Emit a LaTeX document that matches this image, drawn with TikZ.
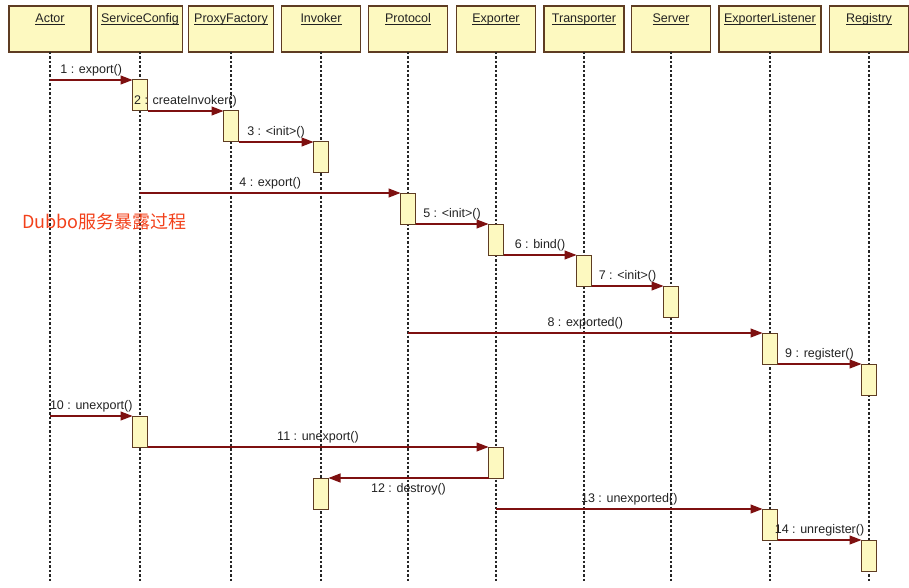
\documentclass[tikz,border=0pt]{standalone}
\usepackage{fontspec}
\setmainfont{Liberation Sans}
\newfontfamily\cjk{Noto Sans CJK SC}
\usetikzlibrary{arrows.meta}
\definecolor{boxfill}{HTML}{FDF9C0}
\definecolor{boxline}{HTML}{5E3C22}
\definecolor{msgcol}{HTML}{7E1010}
\definecolor{titlered}{HTML}{F2411B}
\definecolor{txt}{HTML}{222222}
\begin{document}
\begin{tikzpicture}[x=1pt,y=-1pt,
  head/.style={draw=boxline, line width=1.2pt, fill=boxfill, minimum height=46pt, inner sep=0pt, outer sep=0pt},
  headtxt/.style={font=\fontsize{12.5}{14}\selectfont, text=txt, inner sep=0pt, anchor=base},
  life/.style={draw=black!85, line width=1.8pt, dash pattern=on 2.5pt off 2pt},
  act/.style={draw=boxline, fill=boxfill, line width=1pt, minimum width=15pt, minimum height=31pt, inner sep=0pt, outer sep=0pt, anchor=north},
  msg/.style={draw=msgcol, line width=1.1pt, -{Triangle[length=12pt,width=9pt]}},
  lbl/.style={font=\fontsize{12.5}{14}\selectfont, text=txt, inner sep=3pt},
  ttl/.style={font=\fontsize{18}{21}\selectfont, text=titlered, inner sep=0pt, anchor=west}]
\useasboundingbox (0,0) rectangle (909,588);
\foreach \n/\x/\w/\t in {actor/50/82/Actor, sc/140/85/ServiceConfig, pf/231/85/ProxyFactory, inv/321/79/Invoker, pr/408/79/Protocol, ex/496/79/Exporter, tr/584/80/Transporter, sv/671/79/Server, el/770/102/ExporterListener, rg/869/79/Registry} {
  \node[head, minimum width=\w pt] (\n) at (\x,29) {};
  \node[headtxt] (\n t) at (\x,23) {\underline{\vphantom{A}\smash{\t}}};
  \coordinate (\n end) at (\x,582);
  \draw[life] (\n.south) -- (\n end);
}
% activations
\node[act] (sc1) at (140,80) {};
\node[act] (pf1) at (231,111) {};
\node[act] (inv1) at (321,142) {};
\node[act] (pr1) at (408,193) {};
\node[act] (ex1) at (496,224) {};
\node[act] (tr1) at (584,255) {};
\node[act] (sv1) at (671,286) {};
\node[act] (el1) at (770,333) {};
\node[act] (rg1) at (869,364) {};
\node[act] (sc2) at (140,416) {};
\node[act] (ex2) at (496,447) {};
\node[act] (inv2) at (321,478) {};
\node[act] (el2) at (770,509) {};
\node[act] (rg2) at (869,540) {};
% free message starts
\coordinate (m1s) at (actor |- sc1.north);
\coordinate (m4s) at (sc |- pr1.north);
\coordinate (m8s) at (pr |- el1.north);
\coordinate (m10s) at (actor |- sc2.north);
\coordinate (m13s) at (ex |- el2.north);
% messages
\draw[msg] (m1s) -- (sc1.north west) node[lbl, midway, above] {1 : export()};
\draw[msg] (sc1.south east) -- (pf1.north west) node[lbl, midway, above] {2 : createInvoker()};
\draw[msg] (pf1.south east) -- (inv1.north west) node[lbl, midway, above] {3 : <init>()};
\draw[msg] (m4s) -- (pr1.north west) node[lbl, midway, above] {4 : export()};
\draw[msg] (pr1.south east) -- (ex1.north west) node[lbl, midway, above] {5 : <init>()};
\draw[msg] (ex1.south east) -- (tr1.north west) node[lbl, midway, above] {6 : bind()};
\draw[msg] (tr1.south east) -- (sv1.north west) node[lbl, midway, above] {7 : <init>()};
\draw[msg] (m8s) -- (el1.north west) node[lbl, midway, above] {8 : exported()};
\draw[msg] (el1.south east) -- (rg1.north west) node[lbl, midway, above] {9 : register()};
\draw[msg] (m10s) -- (sc2.north west) node[lbl, midway, above] {10 : unexport()};
\draw[msg] (sc2.south east) -- (ex2.north west) node[lbl, midway, above] {11 : unexport()};
\draw[msg] (ex2.south west) -- (inv2.north east) node[lbl, midway, below, yshift=-2pt] {12 : destroy()};
\draw[msg] (m13s) -- (el2.north west) node[lbl, midway, above] {13 : unexported()};
\draw[msg] (el2.south east) -- (rg2.north west) node[lbl, midway, above] {14 : unregister()};
% title
\node[ttl] (title) at (22,222) {\cjk Dubbo服务暴露过程};
\end{tikzpicture}
\end{document}
